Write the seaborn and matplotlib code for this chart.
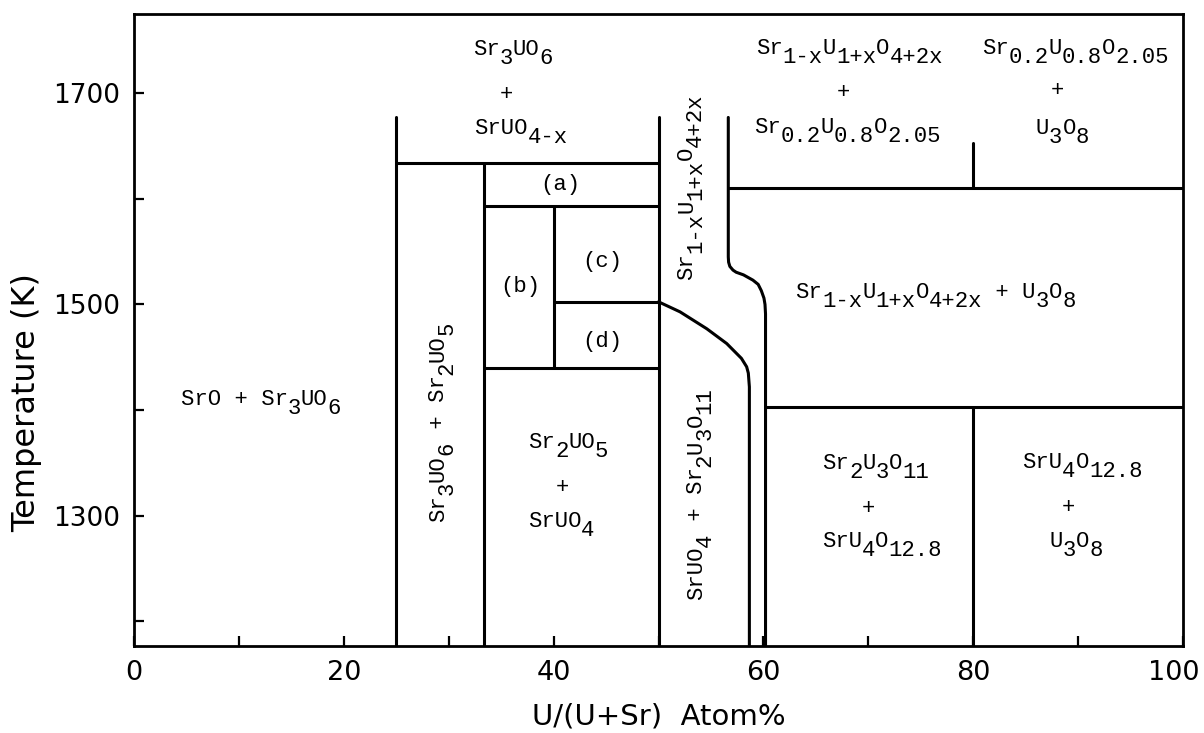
import re
import numpy as np
import pandas as pd
import matplotlib
matplotlib.use("Agg")
import matplotlib.pyplot as plt
import matplotlib.transforms as mtransforms
import seaborn as sns

# ---- axis ranges and ticks -------------------------------------------------
T_MIN, T_MAX = 1177, 1775
x_major = [0, 20, 40, 60, 80, 100]
x_minor = [10, 30, 50, 70, 90]
t_major = [1300, 1500, 1700]
t_minor = [1200, 1400, 1600]

# ---- phase boundaries: U/(U+Sr) atom% and temperature (K) -----------------
wall25_x = [25, 25]
wall25_T = [T_MIN, 1677]
wall50_x = [50, 50]
wall50_T = [T_MIN, 1677]
top_a_x = [25, 50]
top_a_T = [1634, 1634]
wall33_x = [33.4, 33.4]
wall33_T = [T_MIN, 1634]
top_bc_x = [33.4, 50]
top_bc_T = [1593, 1593]
wall40_x = [40, 40]
wall40_T = [1440, 1593]
top_d_x = [40, 50]
top_d_T = [1502.5, 1502.5]
floor_bd_x = [33.4, 50]
floor_bd_T = [1440, 1440]
curve_a_x = [50, 52.05, 54.6, 56.5, 57.9, 58.4, 58.56, 58.66, 58.66]
curve_a_T = [1502.5, 1493, 1477, 1463, 1449, 1441, 1435, 1422, T_MIN]
curve_b_x = [56.65, 56.65, 56.68, 56.8, 57.1, 57.4, 58.1, 59.0, 59.5, 59.8, 60.05, 60.15, 60.2, 60.2]
curve_b_T = [1677, 1545, 1540, 1536, 1532.5, 1530.5, 1528, 1523, 1519, 1513, 1506, 1500, 1491, T_MIN]
upper_x = [56.65, 100]
upper_T = [1610, 1610]
tie80_hi_x = [80, 80]
tie80_hi_T = [1610, 1653]
lower_x = [60.2, 100]
lower_T = [1403, 1403]
tie80_lo_x = [80, 80]
tie80_lo_T = [T_MIN, 1403]

boundaries = [
    ("wall25", wall25_x, wall25_T), ("wall50", wall50_x, wall50_T),
    ("top_a", top_a_x, top_a_T), ("wall33", wall33_x, wall33_T),
    ("top_bc", top_bc_x, top_bc_T), ("wall40", wall40_x, wall40_T),
    ("top_d", top_d_x, top_d_T), ("floor_bd", floor_bd_x, floor_bd_T),
    ("curve_a", curve_a_x, curve_a_T), ("curve_b", curve_b_x, curve_b_T),
    ("upper", upper_x, upper_T), ("tie80_hi", tie80_hi_x, tie80_hi_T),
    ("lower", lower_x, lower_T), ("tie80_lo", tie80_lo_x, tie80_lo_T),
]
df = pd.concat(
    [pd.DataFrame({"U": xs, "T": ts, "boundary": name}) for name, xs, ts in boundaries],
    ignore_index=True,
)

# ---- phase-field labels: text, x, T, rotation ------------------------------
phase_labels = [
    ("Sr_{3}UO_{6}", 36.1, 1742.5, 0),
    ("+", 35.5, 1700, 0),
    ("SrUO_{4-x}", 36.9, 1667, 0),
    ("(a)", 40.6, 1614, 0),
    ("(b)", 36.8, 1518, 0),
    ("(c)", 44.6, 1542, 0),
    ("(d)", 44.6, 1466, 0),
    ("Sr_{1-x}U_{1+x}O_{4+2x}", 52.6, 1611.5, 90),
    ("Sr_{3}UO_{6} + Sr_{2}UO_{5}", 28.9, 1389, 90),
    ("SrUO_{4} + Sr_{2}U_{3}O_{11}", 53.5, 1321, 90),
    ("Sr_{2}UO_{5}", 41.4, 1370.5, 0),
    ("+", 40.8, 1328, 0),
    ("SrUO_{4}", 40.7, 1295.5, 0),
    ("SrO + Sr_{3}UO_{6}", 12.1, 1411, 0),
    ("Sr_{1-x}U_{1+x}O_{4+2x}", 68.2, 1743.5, 0),
    ("+", 67.6, 1701.5, 0),
    ("Sr_{0.2}U_{0.8}O_{2.05}", 68.0, 1668, 0),
    ("Sr_{0.2}U_{0.8}O_{2.05}", 89.7, 1743, 0),
    ("+", 88.0, 1703, 0),
    ("U_{3}O_{8}", 88.5, 1667, 0),
    ("Sr_{1-x}U_{1+x}O_{4+2x} + U_{3}O_{8}", 76.4, 1512, 0),
    ("Sr_{2}U_{3}O_{11}", 70.7, 1350, 0),
    ("+", 70.0, 1308, 0),
    ("SrU_{4}O_{12.8}", 71.3, 1276.5, 0),
    ("SrU_{4}O_{12.8}", 90.4, 1351.5, 0),
    ("+", 89.1, 1309, 0),
    ("U_{3}O_{8}", 89.8, 1276.5, 0),
]

# ---- styling ---------------------------------------------------------------
sns.set_theme(style="ticks")
plt.rcParams["font.family"] = ["DejaVu Sans"]

MONO = "Liberation Mono"
FS = 16.0            # formula font size (pt)
ADV = 0.6 * FS       # monospace advance per character (pt)
SUB = 0.4 * FS       # subscript drop (pt)
CAP_MID = 0.29 * FS  # baseline -> middle of capitals (pt)


def draw_formula(ax, x, y, s, rot=0):
    """Typewriter-style formula: subscripts keep full size, only drop."""
    segs = [(sub, True) if sub else (main, False)
            for sub, main in re.findall(r"_\{([^}]*)\}|([^_]+)", s)]
    n = sum(len(t) for t, _ in segs)
    pos = -n * ADV / 2.0
    for text, is_sub in segs:
        along = pos
        across = -CAP_MID - (SUB if is_sub else 0.0)
        off = (-across, along) if rot == 90 else (along, across)
        ax.annotate(text, xy=(x, y), xytext=off, textcoords="offset points",
                    ha="left", va="baseline", rotation=rot,
                    rotation_mode="anchor", fontfamily=MONO, fontsize=FS,
                    color="black")
        pos += len(text) * ADV


fig = plt.figure(figsize=(12.04, 7.33), dpi=100)
ax = fig.add_axes([0.1113, 0.1191, 0.8713, 0.8619])

sns.lineplot(data=df, x="U", y="T", units="boundary", estimator=None,
             sort=False, color="black", linewidth=2.2, legend=False, ax=ax)

for text, x, t, rot in phase_labels:
    draw_formula(ax, x, t, text, rot)

ax.set_xlim(0, 100)
ax.set_ylim(T_MIN, T_MAX)
ax.set_xticks(x_major)
ax.set_xticks(x_minor, minor=True)
ax.set_yticks(t_major)
ax.set_yticks(t_minor, minor=True)
ax.set_xticklabels([str(v) for v in x_major])
ax.set_yticklabels([str(v) for v in t_major])
ax.tick_params(which="both", direction="in", length=7, width=1.6,
               color="black", top=False, right=False)
ax.tick_params(axis="x", labelsize=19.5, pad=10, labelcolor="black")
ax.tick_params(axis="y", labelsize=19, pad=10, labelcolor="black")

# keep the last x tick label inside the figure edge
last = ax.get_xticklabels()[-1]
last.set_transform(last.get_transform()
                   + mtransforms.ScaledTranslation(-9 / 100, 0, fig.dpi_scale_trans))

for side in ax.spines.values():
    side.set_linewidth(2.0)
    side.set_color("black")

ax.set_xlabel("U/(U+Sr)  Atom%", fontsize=21, labelpad=12, color="black")
ax.set_ylabel("Temperature (K)", fontsize=23, color="black")
ax.yaxis.set_label_coords(-0.088, 0.385)
ax.set_facecolor("white")
fig.patch.set_facecolor("white")

fig.savefig("out.png", dpi=100, facecolor="white")
